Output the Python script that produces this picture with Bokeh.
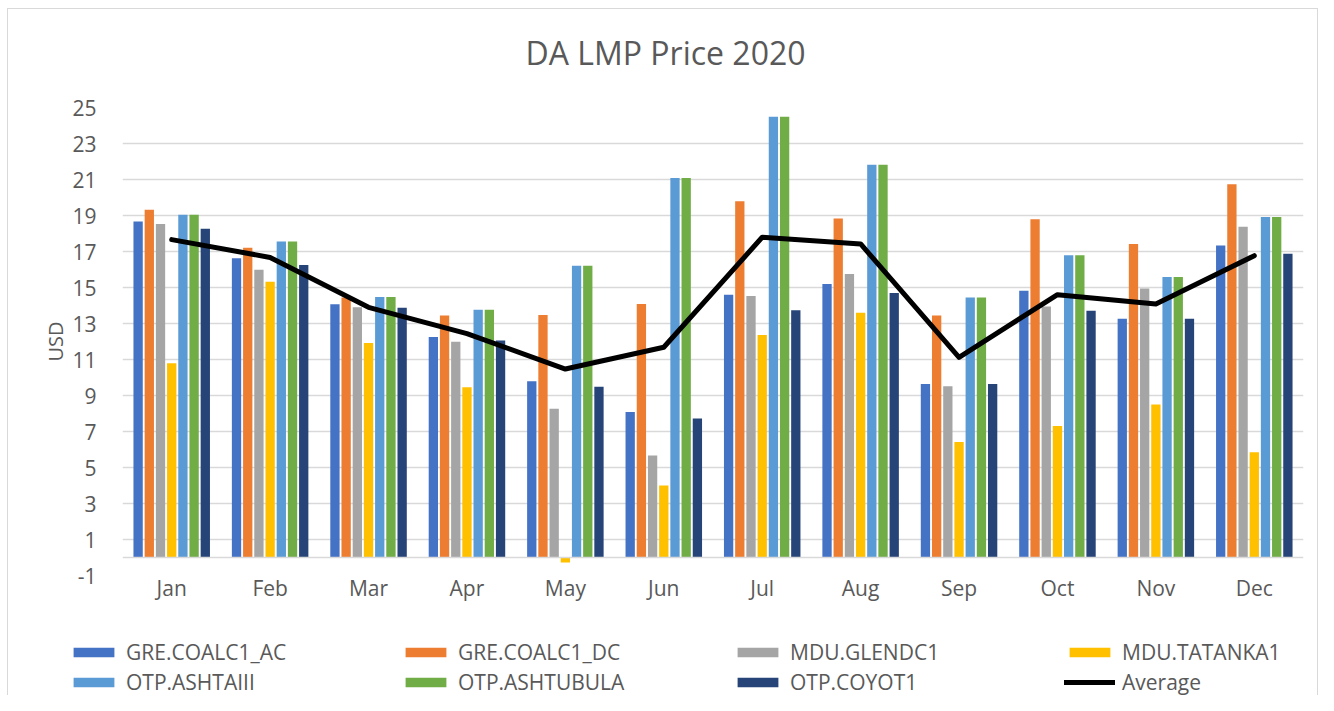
from bokeh.plotting import figure
from bokeh.layouts import column
from bokeh.models import ColumnDataSource, FactorRange, FixedTicker, Legend, LegendItem, Span, Title
from bokeh.transform import dodge
from bokeh.embed import file_html
from bokeh.resources import INLINE

months = ["Jan", "Feb", "Mar", "Apr", "May", "Jun", "Jul", "Aug", "Sep", "Oct", "Nov", "Dec"]
gre_coalc1_ac = [18.67, 16.62, 14.07, 12.25, 9.79, 8.09, 14.60, 15.20, 9.64, 14.82, 13.27, 17.34]
gre_coalc1_dc = [19.32, 17.21, 14.45, 13.44, 13.47, 14.08, 19.79, 18.84, 13.44, 18.79, 17.42, 20.73]
mdu_glendc1 = [18.53, 15.99, 13.90, 11.99, 8.27, 5.66, 14.53, 15.75, 9.51, 13.94, 14.94, 18.38]
mdu_tatanka1 = [10.79, 15.32, 11.92, 9.46, -0.28, 4.00, 12.36, 13.60, 6.42, 7.31, 8.50, 5.85]
otp_ashtaiii = [19.04, 17.55, 14.47, 13.77, 16.21, 21.08, 24.49, 21.82, 14.44, 16.79, 15.58, 18.92]
otp_ashtubula = [19.04, 17.55, 14.47, 13.77, 16.21, 21.08, 24.49, 21.82, 14.44, 16.79, 15.58, 18.92]
otp_coyot1 = [18.27, 16.25, 13.88, 12.05, 9.49, 7.72, 13.73, 14.70, 9.64, 13.71, 13.27, 16.88]
average = [17.66, 16.67, 13.90, 12.44, 10.47, 11.68, 17.79, 17.42, 11.12, 14.60, 14.08, 16.77]
y_ticks = [-1, 1, 3, 5, 7, 9, 11, 13, 15, 17, 19, 21, 23, 25]

series_names = ["GRE.COALC1_AC", "GRE.COALC1_DC", "MDU.GLENDC1", "MDU.TATANKA1",
                "OTP.ASHTAIII", "OTP.ASHTUBULA", "OTP.COYOT1"]
series_values = [gre_coalc1_ac, gre_coalc1_dc, mdu_glendc1, mdu_tatanka1,
                 otp_ashtaiii, otp_ashtubula, otp_coyot1]
colors = ["#4472C4", "#ED7D31", "#A5A5A5", "#FFC000", "#5B9BD5", "#70AD47", "#264478"]

src = ColumnDataSource(data=dict(month=months, average=average,
                                 **{"s%d" % i: v for i, v in enumerate(series_values)}))

FONT = "Open Sans"
TXT = "#595959"

# ---------------- main chart ----------------
p = figure(x_range=FactorRange(*months), y_range=(-1, 25),
           width=1309, height=600, output_backend="svg", toolbar_location=None,
           min_border_left=114, min_border_right=14, min_border_top=98, min_border_bottom=34)
p.frame_align = False

p.title.text = "DA LMP Price 2020"
p.title.align = "left"
p.title.text_font = FONT
p.title.text_font_size = "32px"
p.title.text_font_style = "normal"
p.title.text_color = TXT
p.title.offset = 403
p.title.standoff = 0

# empty spacer between the title and the plot area
p.add_layout(Title(text=" ", text_font_size="10px", standoff=21), "above")

p.outline_line_color = None
p.background_fill_color = "white"
p.border_fill_color = "white"

p.xgrid.grid_line_color = None
p.ygrid.ticker = FixedTicker(ticks=y_ticks)
p.ygrid.grid_line_color = "#d9d9d9"
p.ygrid.grid_line_width = 1.3

p.yaxis.ticker = FixedTicker(ticks=y_ticks)
p.yaxis.major_label_overrides = {-1: "-1"}
for ax in (p.xaxis, p.yaxis):
    ax.axis_line_color = None
    ax.major_tick_line_color = None
    ax.minor_tick_line_color = None
    ax.major_label_text_font = FONT
    ax.major_label_text_font_size = "21px"
    ax.major_label_text_color = TXT
p.yaxis.major_label_standoff = 20
p.xaxis.major_label_standoff = -8
p.yaxis.axis_label = "USD"
p.yaxis.axis_label_text_font = FONT
p.yaxis.axis_label_text_font_size = "20px"
p.yaxis.axis_label_text_font_style = "normal"
p.yaxis.axis_label_text_color = TXT
p.yaxis.axis_label_standoff = 0

p.add_layout(Span(location=0, dimension="width", line_color="#d9d9d9", line_width=1.3))

pitch = 0.1138
for i, col in enumerate(colors):
    p.vbar(x=dodge("month", (i - 3) * pitch, range=p.x_range), top="s%d" % i, bottom=0,
           width=0.0945, source=src, fill_color=col, line_color=None)

p.line(x="month", y="average", source=src, line_color="black", line_width=5,
       line_join="round", line_cap="round")

# ---------------- legend strip ----------------
lf = figure(x_range=(0, 1), y_range=(0, 1), width=1309, height=86,
            output_backend="svg", toolbar_location=None, x_axis_type=None, y_axis_type=None,
            min_border=0, min_border_left=0, min_border_right=0, min_border_top=0,
            min_border_bottom=0)
lf.frame_align = False
lf.outline_line_color = None
lf.xgrid.grid_line_color = None
lf.ygrid.grid_line_color = None
lf.background_fill_color = "white"
lf.border_fill_color = "white"

items = []
for name, col in zip(series_names, colors):
    r = lf.vbar(x=0.5, top=0.5, width=0.1, fill_color=col, line_color=None, visible=False)
    items.append(LegendItem(label=name, renderers=[r]))
rl = lf.line(x=[0.2, 0.8], y=[0.5, 0.5], line_color="black", line_width=5, line_cap="round",
             visible=False)
items.append(LegendItem(label="Average", renderers=[rl]))

legend = Legend(items=items, ncols=4, orientation="horizontal", location=(60, -1),
                glyph_width=51, glyph_height=12, label_standoff=7, label_width=272,
                spacing=2, padding=0, margin=0, border_line_color=None,
                background_fill_alpha=0, inactive_fill_alpha=0,
                label_text_font=FONT, label_text_font_size="21px",
                label_text_color=TXT, label_height=20)
lf.add_layout(legend, "center")

layout = column(p, lf, spacing=0,
                styles={"margin-left": "7px", "margin-top": "8px",
                        "border-top": "1px solid #d9d9d9", "border-left": "1px solid #d9d9d9",
                        "border-right": "1px solid #d9d9d9"})

open("out.html", "w").write(file_html(layout, INLINE))
